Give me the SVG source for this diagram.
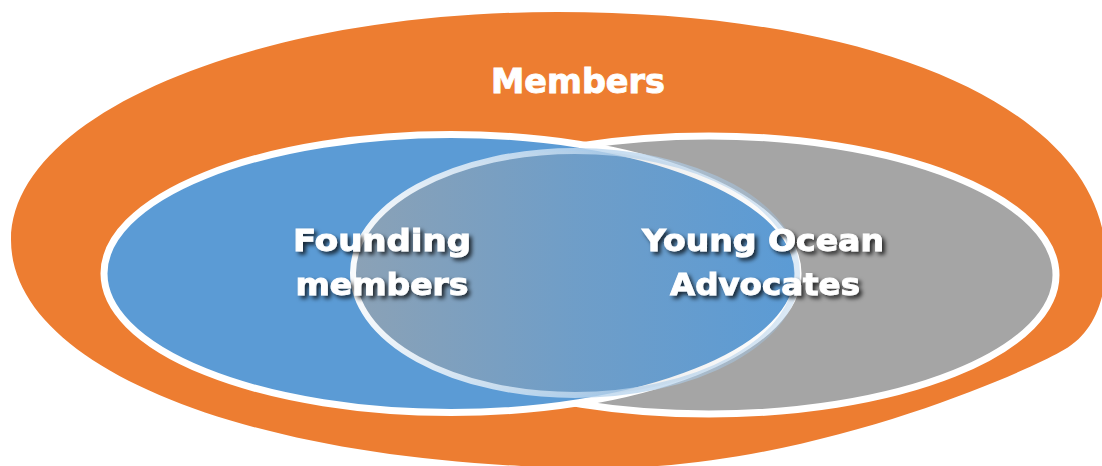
<svg xmlns="http://www.w3.org/2000/svg" width="1102" height="466" viewBox="0 0 1102 466">
  <defs>
    <style>
      .ring { stroke: #FFFFFF; stroke-width: 7; }
      .lbl { font-family: "DejaVu Sans", "Liberation Sans", sans-serif; font-weight: bold; fill: #FFFFFF; stroke: #FFFFFF; stroke-width: 0.9; text-anchor: middle; }
      .big { font-size: 33px; }
      .sub { font-size: 31px; filter: url(#shadow); }
    </style>
    <linearGradient id="ovFill" gradientUnits="userSpaceOnUse" x1="353" y1="0" x2="797" y2="0">
      <stop offset="0" stop-color="#A5A5A5" stop-opacity="0.65"/>
      <stop offset="0.5" stop-color="#A5A5A5" stop-opacity="0.27"/>
      <stop offset="1" stop-color="#A5A5A5" stop-opacity="0"/>
    </linearGradient>
    <linearGradient id="ovStroke" gradientUnits="userSpaceOnUse" x1="353" y1="0" x2="797" y2="0">
      <stop offset="0" stop-color="#FFFFFF" stop-opacity="0.95"/>
      <stop offset="0.5" stop-color="#BDD7EE" stop-opacity="0.85"/>
      <stop offset="1" stop-color="#9DC3E6" stop-opacity="0.35"/>
    </linearGradient>
    <filter id="shadow" x="-10%" y="-30%" width="125%" height="170%">
      <feDropShadow dx="3" dy="3" stdDeviation="2" flood-color="#000000" flood-opacity="0.75"/>
    </filter>
  </defs>
  <rect width="1102" height="466" fill="#FFFFFF"/>
  <g id="node-members">
    <path fill="#ED7D31" d="M557,12 C880,12 1106,110 1106,262 C1106,302 1092,336 1060,352 C1016.5,376.5 805,468 605,468 C265,468 11,372 11,240 C11,114 255.4,12 557,12 Z"/>
  </g>
  <g id="node-young-ocean-advocates">
    <ellipse class="ring" cx="709" cy="275" rx="347" ry="139" fill="#A5A5A5"/>
  </g>
  <g id="node-founding-members">
    <ellipse class="ring" cx="451" cy="273.5" rx="347" ry="139" fill="#5B9BD5"/>
  </g>
  <g id="overlap">
    <ellipse cx="575" cy="273" rx="222" ry="122" fill="url(#ovFill)" stroke="url(#ovStroke)" stroke-width="6"/>
  </g>
  <g id="labels">
    <text id="label-members" class="lbl big" x="578" y="92.5" textLength="174" lengthAdjust="spacingAndGlyphs">Members</text>
    <text id="label-founding" class="lbl sub" x="382" y="250.5" textLength="178" lengthAdjust="spacingAndGlyphs">Founding</text>
    <text id="label-members2" class="lbl sub" x="382" y="295" textLength="173" lengthAdjust="spacingAndGlyphs">members</text>
    <text id="label-young" class="lbl sub" x="763" y="250.5" textLength="242" lengthAdjust="spacingAndGlyphs">Young Ocean</text>
    <text id="label-advocates" class="lbl sub" x="765" y="295" textLength="190" lengthAdjust="spacingAndGlyphs">Advocates</text>
  </g>
</svg>
